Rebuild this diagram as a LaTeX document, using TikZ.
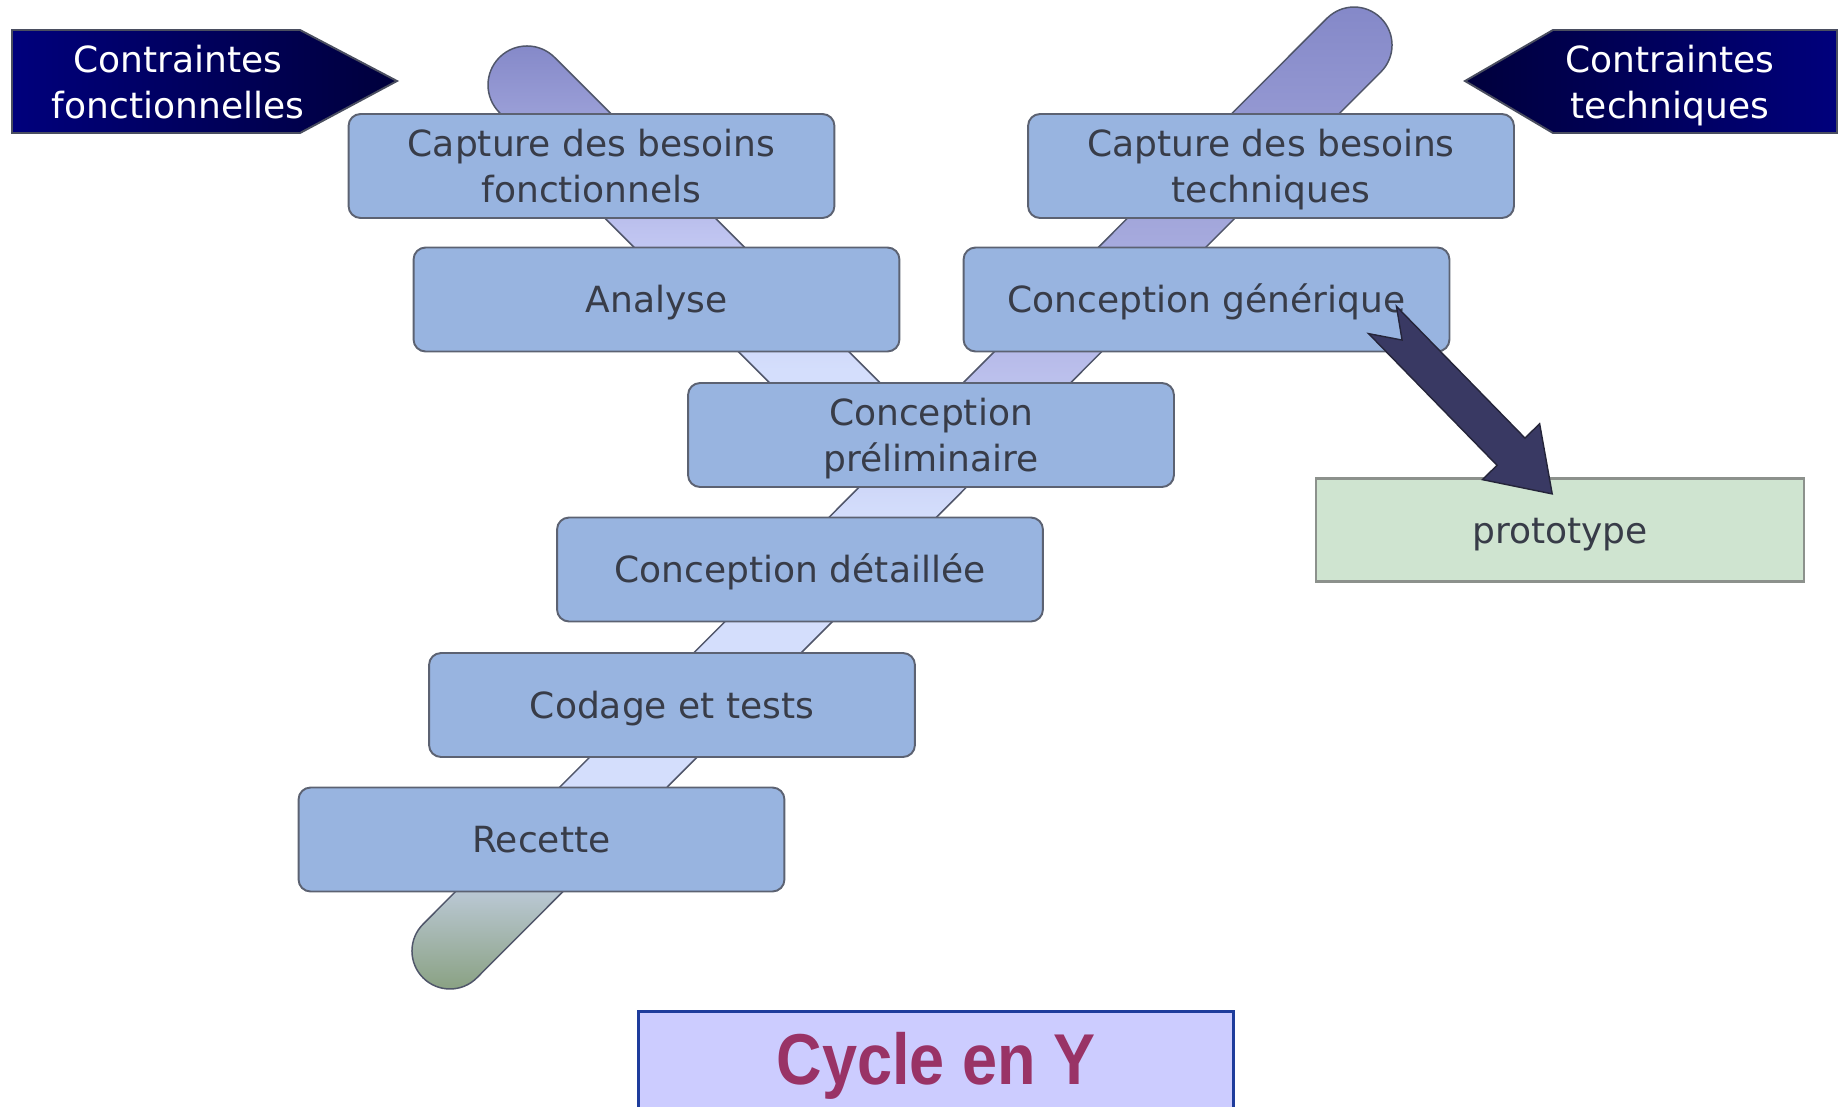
\documentclass[tikz,border=0pt]{standalone}
\usepackage{fontspec}
\setmainfont{DejaVu Sans}
\newfontfamily\titrefont[FakeStretch=0.875]{Liberation Sans}

\definecolor{boxfill}{HTML}{98B4E0}
\definecolor{boxline}{HTML}{5C6272}
\definecolor{boxtext}{HTML}{383C48}
\definecolor{protofill}{HTML}{CFE4D0}
\definecolor{protoline}{HTML}{8C918C}
\definecolor{pipeline}{HTML}{50566A}
\definecolor{pipetop}{HTML}{8488C8}
\definecolor{pipemid}{HTML}{A4A8DC}
\definecolor{pipelav}{HTML}{B8BCEA}
\definecolor{pipelavb}{HTML}{BFC4F0}
\definecolor{pipelight}{HTML}{D4DEFC}
\definecolor{pipegrey}{HTML}{B8C6D0}
\definecolor{pipegreen}{HTML}{88A080}
\definecolor{navyA}{HTML}{00007C}
\definecolor{navyB}{HTML}{00003C}
\definecolor{navyline}{HTML}{4A4E60}
\definecolor{flechefill}{HTML}{393963}
\definecolor{flecheline}{HTML}{25253A}
\definecolor{titrefill}{HTML}{CCCCFF}
\definecolor{titreline}{HTML}{1E3C9C}
\definecolor{titretext}{HTML}{993366}

% degrades des deux branches du Y
\pgfdeclareverticalshading{brasdroit}{100bp}{color(0bp)=(pipegreen); color(25bp)=(pipegreen); color(29.9bp)=(pipegrey); color(35.5bp)=(pipelight); color(49bp)=(pipelight); color(57bp)=(pipelav); color(63.5bp)=(pipemid); color(75bp)=(pipetop); color(100bp)=(pipetop)}
\pgfdeclareverticalshading{brasgauche}{100bp}{color(0bp)=(pipelight); color(37.5bp)=(pipelight); color(53bp)=(pipelavb); color(75bp)=(pipetop); color(100bp)=(pipetop)}

% hauteur fixe des lignes de texte
\newcommand{\ligne}{\rule[-5.5pt]{0pt}{26pt}}

\begin{document}
\begin{tikzpicture}[x=0.02cm, y=-0.02cm,
    etape/.style={rectangle, rounded corners=0.24cm, draw=boxline, line width=1.1pt, fill=boxfill, text=boxtext,
      minimum width=9.72cm, minimum height=2.08cm, align=center, font=\fontsize{20.5}{26}\selectfont},
    proto/.style={rectangle, draw=protoline, line width=1.5pt, fill=protofill, text=boxtext,
      minimum width=9.76cm, minimum height=2.06cm, font=\fontsize{20.5}{26}\selectfont},
    contrainte/.style={text=white, align=center, inner sep=0pt, font=\fontsize{20.5}{26}\selectfont},
    bras/.style={draw=pipeline, line width=0.85pt},
    titre/.style={rectangle, draw=titreline, line width=1.7pt, fill=titrefill, text=titretext,
      minimum width=11.92cm, minimum height=2.2cm, font=\titrefont\bfseries\fontsize{41}{44}\selectfont}]
  \useasboundingbox (0,0) rectangle (1839,1106);
  \clip (0,0) rectangle (1839,1106);

  % le Y
  \shade[bras, shading=brasgauche] (499.4,112.6) -- (866.4,479.6) -- (921.6,424.4) -- (554.6,57.4) arc (-45:-225:39) -- cycle;
  \shade[bras, shading=brasdroit] (1327.1,18.1) -- (423.1,924.1) arc (225:45:38) -- (1380.9,71.9) arc (45:-135:38) -- cycle;

  \node[etape] (capfonc) at (591.5,166) {\ligne Capture des besoins\\\ligne fonctionnels};
  \node[etape] (captech) at (1271,166) {\ligne Capture des besoins\\\ligne techniques};
  \node[etape] (analyse) at (656.5,299.5) {\ligne Analyse};
  \node[etape] (concgen) at (1206.5,299.5) {\ligne Conception générique};
  \node[etape] (concprel) at (931,435) {\ligne Conception\\\ligne préliminaire};
  \node[etape] (concdet) at (800,569.5) {\ligne Conception détaillée};
  \node[etape] (codage) at (672,705) {\ligne Codage et tests};
  \node[etape] (recette) at (541.5,839.5) {\ligne Recette};
  \node[proto] (prototype) at (1560,530) {\ligne prototype};

  % contraintes
  \shadedraw[left color=navyA, right color=navyB, draw=navyline, line width=1.1pt] (12,30) -- (300,30) -- (397,81) -- (300,133) -- (12,133) -- cycle;
  \shadedraw[left color=navyB, right color=navyA, draw=navyline, line width=1.1pt] (1837,30) -- (1553,30) -- (1465,81) -- (1553,133) -- (1837,133) -- cycle;
  \node[contrainte] (cfonc) at (178,82) {\ligne Contraintes\\\ligne fonctionnelles};
  \node[contrainte] (ctech) at (1670,82) {\ligne Contraintes\\\ligne techniques};

  % fleche vers le prototype
  \coordinate (fleche) at (1382.5,320);
  \begin{scope}[shift={(fleche)}, rotate=-45.7]
    \filldraw[fill=flechefill, draw=flecheline, line width=0.8pt] (0,-19.5) -- (184,-19.5) -- (184,-40) -- (243,0) -- (184,40) -- (184,19.5) -- (0,19.5) -- (28,0) -- cycle;
  \end{scope}

  \node[titre] (cycle) at (936,1066) {Cycle en Y};
\end{tikzpicture}
\end{document}
